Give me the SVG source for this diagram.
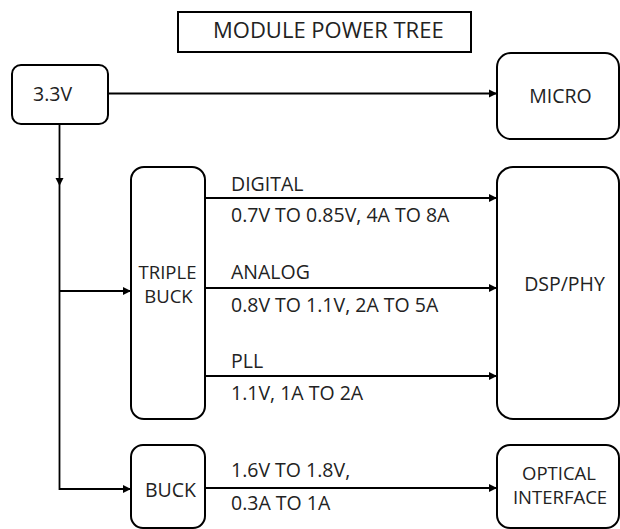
<svg xmlns="http://www.w3.org/2000/svg" width="620" height="529" viewBox="0 0 620 529">
  <defs>
    <marker id="arr" viewBox="0 0 10 10" refX="10" refY="5" markerWidth="8" markerHeight="9" markerUnits="userSpaceOnUse" orient="auto">
      <path d="M0,0 L10,5 L0,10 Z" fill="#000"/>
    </marker>
    <style>
      .box { fill: #fff; stroke: #000; stroke-width: 2; }
      .ln { fill: none; stroke: #000; stroke-width: 1.8; }
      .t { font-family: "Open Sans", "Noto Sans", "Liberation Sans", sans-serif; font-size: 19.5px; fill: #222; }
      .c { text-anchor: middle; }
      .title { font-size: 22px; }
      .two { font-size: 18.5px; }
    </style>
  </defs>
  <rect width="620" height="529" fill="#fff"/>

  <g id="title">
    <rect x="178" y="12" width="293" height="40" fill="#fff" stroke="#000" stroke-width="2"/>
    <text class="t title" x="213" y="38">MODULE POWER TREE</text>
  </g>

  <g id="connectors">
    <line class="ln" x1="108" y1="93.5" x2="497" y2="93.5" marker-end="url(#arr)"/>
    <line class="ln" x1="59.5" y1="124" x2="59.5" y2="186" marker-end="url(#arr)"/>
    <polyline class="ln" points="59.5,186 59.5,489 131,489" marker-end="url(#arr)"/>
    <line class="ln" x1="59.5" y1="291" x2="131" y2="291" marker-end="url(#arr)"/>
    <line class="ln" x1="205" y1="198" x2="497" y2="198" marker-end="url(#arr)"/>
    <line class="ln" x1="205" y1="288" x2="497" y2="288" marker-end="url(#arr)"/>
    <line class="ln" x1="205" y1="376" x2="497" y2="376" marker-end="url(#arr)"/>
    <line class="ln" x1="205" y1="488" x2="497" y2="488" marker-end="url(#arr)"/>
    <text class="t" x="231" y="191">DIGITAL</text>
    <text class="t" x="231" y="222">0.7V TO 0.85V, 4A TO 8A</text>
    <text class="t" x="231" y="279">ANALOG</text>
    <text class="t" x="231" y="312">0.8V TO 1.1V, 2A TO 5A</text>
    <text class="t" x="231" y="368">PLL</text>
    <text class="t" x="231" y="400">1.1V, 1A TO 2A</text>
    <text class="t" x="231" y="477">1.6V TO 1.8V,</text>
    <text class="t" x="231" y="510">0.3A TO 1A</text>
  </g>

  <g id="src33">
    <rect class="box" x="12" y="65" width="96" height="59" rx="9"/>
    <text class="t" x="33" y="101">3.3V</text>
  </g>

  <g id="micro">
    <rect class="box" x="497" y="53" width="122" height="86" rx="14"/>
    <text class="t c" x="560.5" y="103">MICRO</text>
  </g>

  <g id="triplebuck">
    <rect class="box" x="131" y="167" width="74" height="252" rx="13"/>
    <text class="t c two" x="167.5" y="279">TRIPLE</text>
    <text class="t c two" x="168.5" y="303">BUCK</text>
  </g>

  <g id="dspphy">
    <rect class="box" x="497" y="167" width="122" height="252" rx="16"/>
    <text class="t c" x="564.5" y="291">DSP/PHY</text>
  </g>

  <g id="buck">
    <rect class="box" x="131" y="445" width="74" height="83" rx="12"/>
    <text class="t c" x="170.5" y="497">BUCK</text>
  </g>

  <g id="optical">
    <rect class="box" x="497" y="445" width="122" height="83" rx="13"/>
    <text class="t c two" x="559" y="480">OPTICAL</text>
    <text class="t c two" x="560" y="504">INTERFACE</text>
  </g>
</svg>
